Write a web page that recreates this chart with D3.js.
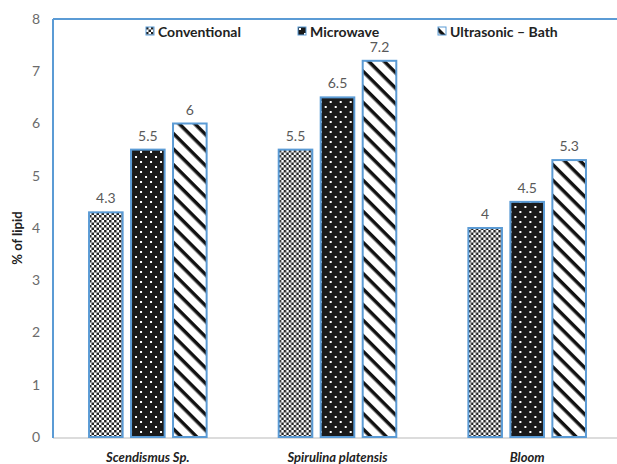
<!DOCTYPE html>
<html>
<head>
<meta charset="utf-8">
<script src="https://cdn.jsdelivr.net/npm/d3@7"></script>
<style>
  html, body { margin: 0; padding: 0; background: #fff; }
  svg { display: block; }
</style>
</head>
<body>
<svg id="chart" width="617" height="464"></svg>
<script>
// Lipid yield (%) per species and extraction method
const categories = ["Scendismus Sp.", "Spirulina platensis", "Bloom"];
const seriesNames = ["Conventional", "Microwave", "Ultrasonic – Bath"];
const conventional = [4.3, 5.5, 4.0];
const microwave = [5.5, 6.5, 4.5];
const ultrasonic = [6.0, 7.2, 5.3];
const yTicks = [0, 1, 2, 3, 4, 5, 6, 7, 8];

const seriesValues = [conventional, microwave, ultrasonic];
const patternIds = ["pat-check", "pat-dots", "pat-diag"];

const svg = d3.select("#chart");
const W = 617, H = 464;
const plot = { left: 53, top: 19, right: 622, bottom: 437 };
const outline = "#5B9BD5";
const textGray = "#595959";
const font = "Lato, 'Open Sans', 'DejaVu Sans', sans-serif";

// ---- fill patterns ----
const defs = svg.append("defs");

// fine checkerboard
const pc = defs.append("pattern").attr("id", "pat-check")
  .attr("patternUnits", "userSpaceOnUse").attr("width", 5).attr("height", 5);
pc.append("rect").attr("width", 5).attr("height", 5).attr("fill", "#fff");
pc.append("rect").attr("width", 2.5).attr("height", 2.5).attr("fill", "#222");
pc.append("rect").attr("x", 2.5).attr("y", 2.5).attr("width", 2.5).attr("height", 2.5).attr("fill", "#222");

// white dots on black, staggered
const pd = defs.append("pattern").attr("id", "pat-dots")
  .attr("patternUnits", "userSpaceOnUse").attr("width", 10).attr("height", 10);
pd.append("rect").attr("width", 10).attr("height", 10).attr("fill", "#1a1a1a");
pd.append("rect").attr("x", 1).attr("y", 1).attr("width", 2).attr("height", 2).attr("fill", "#fff");
pd.append("rect").attr("x", 6).attr("y", 6).attr("width", 2).attr("height", 2).attr("fill", "#fff");

// wide downward diagonal stripes (top-left to bottom-right)
const pg = defs.append("pattern").attr("id", "pat-diag")
  .attr("patternUnits", "userSpaceOnUse").attr("width", 11).attr("height", 11)
  .attr("patternTransform", "rotate(45)");
pg.append("rect").attr("width", 11).attr("height", 11).attr("fill", "#fff");
pg.append("rect").attr("x", 0).attr("y", 0).attr("width", 11).attr("height", 3.5).attr("fill", "#111");

// ---- scales ----
const y = d3.scaleLinear().domain([0, 8]).range([plot.bottom, plot.top]);
const x0 = d3.scaleBand().domain(categories)
  .range([plot.left, plot.right]).paddingInner(0.38).paddingOuter(0.19);
const x1 = d3.scaleBand().domain(d3.range(seriesNames.length))
  .range([0, x0.bandwidth()]).paddingInner(0.2);

// ---- frame ----
svg.append("line").attr("x1", plot.left).attr("x2", W)
  .attr("y1", plot.bottom + 1).attr("y2", plot.bottom + 1)
  .attr("stroke", "#d0d0d0").attr("stroke-width", 1.5);
svg.append("line").attr("x1", plot.left).attr("x2", W)
  .attr("y1", plot.top).attr("y2", plot.top)
  .attr("stroke", outline).attr("stroke-width", 2);
svg.append("line").attr("x1", plot.left).attr("x2", plot.left)
  .attr("y1", plot.top).attr("y2", plot.bottom + 1)
  .attr("stroke", outline).attr("stroke-width", 2);

// ---- y axis labels ----
const yAxis = d3.axisLeft(y).tickValues(yTicks).tickSize(0).tickPadding(13)
  .tickFormat(d3.format("d"));
const ga = svg.append("g").attr("transform", `translate(${plot.left},0)`).call(yAxis);
ga.select(".domain").remove();
ga.selectAll("text").attr("fill", "#6b6b6b").style("font-family", font).style("font-size", "14px");

svg.append("text")
  .attr("transform", `translate(22,${(plot.top + plot.bottom) / 2 + 10}) rotate(-90)`)
  .attr("text-anchor", "middle")
  .style("font-family", font).style("font-size", "13px").style("font-weight", "bold")
  .attr("fill", "#222").text("% of lipid");

// ---- bars ----
const groups = svg.append("g").selectAll("g").data(categories).join("g")
  .attr("transform", d => `translate(${x0(d)},0)`);

groups.each(function (cat, ci) {
  const g = d3.select(this);
  seriesValues.forEach((vals, si) => {
    const v = vals[ci];
    g.append("rect")
      .attr("x", x1(si)).attr("y", y(v))
      .attr("width", x1.bandwidth()).attr("height", y(0) - y(v))
      .attr("fill", `url(#${patternIds[si]})`)
      .attr("stroke", outline).attr("stroke-width", 2);
    g.append("text")
      .attr("x", x1(si) + x1.bandwidth() / 2).attr("y", y(v) - 9)
      .attr("text-anchor", "middle").attr("fill", textGray)
      .style("font-family", font).style("font-size", "14px")
      .text(d3.format("")(v));
  });
});

// ---- category labels ----
svg.append("g").selectAll("text").data(categories).join("text")
  .attr("x", d => x0(d) + x0.bandwidth() / 2).attr("y", 462)
  .attr("text-anchor", "middle").attr("fill", "#222")
  .style("font-family", font).style("font-size", "13px")
  .style("font-weight", "bold").style("font-style", "italic")
  .text(d => d);

// ---- legend ----
const legendX = [146, 298, 438];
const legend = svg.append("g").selectAll("g").data(seriesNames).join("g")
  .attr("transform", (d, i) => `translate(${legendX[i]},27)`);
legend.append("rect").attr("width", 8).attr("height", 8)
  .attr("fill", (d, i) => `url(#${patternIds[i]})`)
  .attr("stroke", outline).attr("stroke-width", 1);
legend.append("text").attr("x", 12).attr("y", 9.5)
  .attr("fill", "#222")
  .style("font-family", font).style("font-size", "14px").style("font-weight", "bold")
  .text(d => d);
</script>
</body>
</html>
